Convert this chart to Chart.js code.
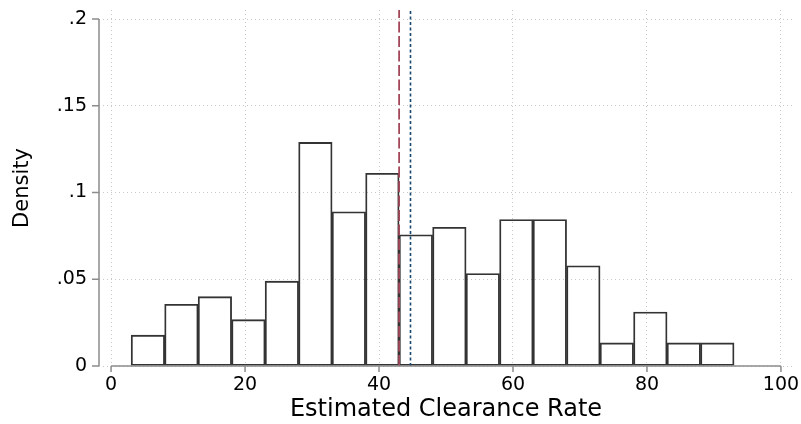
<!DOCTYPE html>
<html>
<head>
<meta charset="utf-8">
<script src="https://cdn.jsdelivr.net/npm/chart.js@4/dist/chart.umd.min.js"></script>
<style>
html,body{margin:0;padding:0;background:#fff;}
#wrap{width:801px;height:424px;}
</style>
</head>
<body>
<div id="wrap"><canvas id="c" width="801" height="424"></canvas></div>
<script>
// ---- data ----
const binCenters = [5.5, 10.5, 15.5, 20.5, 25.5, 30.5, 35.5, 40.5, 45.5, 50.5, 55.5, 60.5, 65.5, 70.5, 75.5, 80.5, 85.5, 90.5];
const densities  = [0.0178, 0.0356, 0.0400, 0.0267, 0.0489, 0.1289, 0.0889, 0.1111, 0.0756, 0.0800, 0.0533, 0.0844, 0.0844, 0.0578, 0.0133, 0.0311, 0.0133, 0.0133];
const dashedLineValue = [43.0];   // red dashed reference line
const dottedLineValue = [44.7];   // blue dotted reference line
const yTickLabels = ['0', '.05', '.1', '.15', '.2'];
const xTickLabels = ['0', '20', '40', '60', '80', '100'];
const xTitle = 'Estimated Clearance Rate';
const yTitle = 'Density';

// ---- scale configuration ----
const X_MIN = -1.8, X_MAX = 101.8;
const Y_MIN = 0, Y_MAX = 0.2052;

const FONT = 'DejaVu Sans, sans-serif';

const axisPlugin = {
  id: 'stataAxes',
  afterDatasetsDraw(chart) {
    const {ctx, scales: {x, y}, chartArea} = chart;
    const yv0 = y.ticks[0].value, yv1 = y.ticks[y.ticks.length - 1].value;
    const xv0 = x.ticks[0].value, xv1 = x.ticks[x.ticks.length - 1].value;
    const py0 = y.getPixelForValue(yv0), py1 = y.getPixelForValue(yv1);
    const px0 = x.getPixelForValue(xv0), px1 = x.getPixelForValue(xv1);
    const left = chartArea.left;
    ctx.save();
    ctx.strokeStyle = '#8c8c8c';
    ctx.lineWidth = 1.5;
    ctx.beginPath();
    ctx.moveTo(left, py0); ctx.lineTo(left, py1);
    y.ticks.forEach(t => { const p = y.getPixelForValue(t.value); ctx.moveTo(left - 7, p); ctx.lineTo(left, p); });
    ctx.moveTo(px0, py0); ctx.lineTo(px1, py0);
    x.ticks.forEach(t => { const p = x.getPixelForValue(t.value); ctx.moveTo(p, py0); ctx.lineTo(p, py0 + 6); });
    ctx.stroke();
    ctx.restore();
  }
};

const refLine = (v) => [{x: v, y: Y_MIN}, {x: v, y: Y_MAX}];

new Chart(document.getElementById('c'), {
  type: 'bar',
  data: {
    datasets: [
      {
        type: 'line',
        data: refLine(dashedLineValue[0]),
        borderColor: '#a3475a',
        borderWidth: 1.8,
        borderDash: [11, 3.5],
        pointRadius: 0,
        fill: false,
        order: 0
      },
      {
        type: 'line',
        data: refLine(dottedLineValue[0]),
        borderColor: '#1a476f',
        borderWidth: 1.6,
        borderDash: [3, 2.5],
        pointRadius: 0,
        fill: false,
        order: 0
      },
      {
        type: 'bar',
        data: binCenters.map((c, i) => ({x: c, y: densities[i]})),
        backgroundColor: 'rgba(0,0,0,0)',
        borderColor: '#333333',
        borderWidth: 1.2,
        borderSkipped: false,
        barPercentage: 1.0,
        categoryPercentage: 1.0,
        order: 1
      }
    ]
  },
  options: {
    responsive: false,
    animation: false,
    devicePixelRatio: 1,
    layout: {padding: {top: 10, right: 8, bottom: 0, left: 0}},
    plugins: {legend: {display: false}, tooltip: {enabled: false}},
    scales: {
      x: {
        type: 'linear',
        min: X_MIN, max: X_MAX,
        offset: false,
        grid: {offset: false, color: '#c8c8c8', lineWidth: 1, drawTicks: false, borderDash: [1, 3]},
        border: {display: false, dash: [1, 3]},
        ticks: {
          stepSize: 20, includeBounds: false, autoSkip: false, maxRotation: 0,
          padding: 8, color: '#000',
          font: {family: FONT, size: 19},
          callback: (v, i) => xTickLabels[i]
        },
        title: {display: true, text: xTitle, color: '#000', font: {family: FONT, size: 24}, padding: {top: 0, bottom: 0}},
        afterFit: (s) => { s.height = 58; s.paddingLeft = 0; s.paddingRight = 0; }
      },
      y: {
        type: 'linear',
        min: Y_MIN, max: Y_MAX,
        grid: {color: '#c8c8c8', lineWidth: 1, drawTicks: false, borderDash: [1, 3]},
        border: {display: false, dash: [1, 3]},
        ticks: {
          stepSize: 0.05, includeBounds: false, autoSkip: false,
          padding: 12, color: '#000',
          font: {family: FONT, size: 19},
          callback: (v, i) => yTickLabels[i]
        },
        title: {display: true, text: yTitle, color: '#000', font: {family: FONT, size: 21}, padding: {top: 10, bottom: 0}},
        afterFit: (s) => { s.width = 99; s.paddingTop = 0; s.paddingBottom = 0; }
      }
    }
  },
  plugins: [axisPlugin]
});
</script>
</body>
</html>
